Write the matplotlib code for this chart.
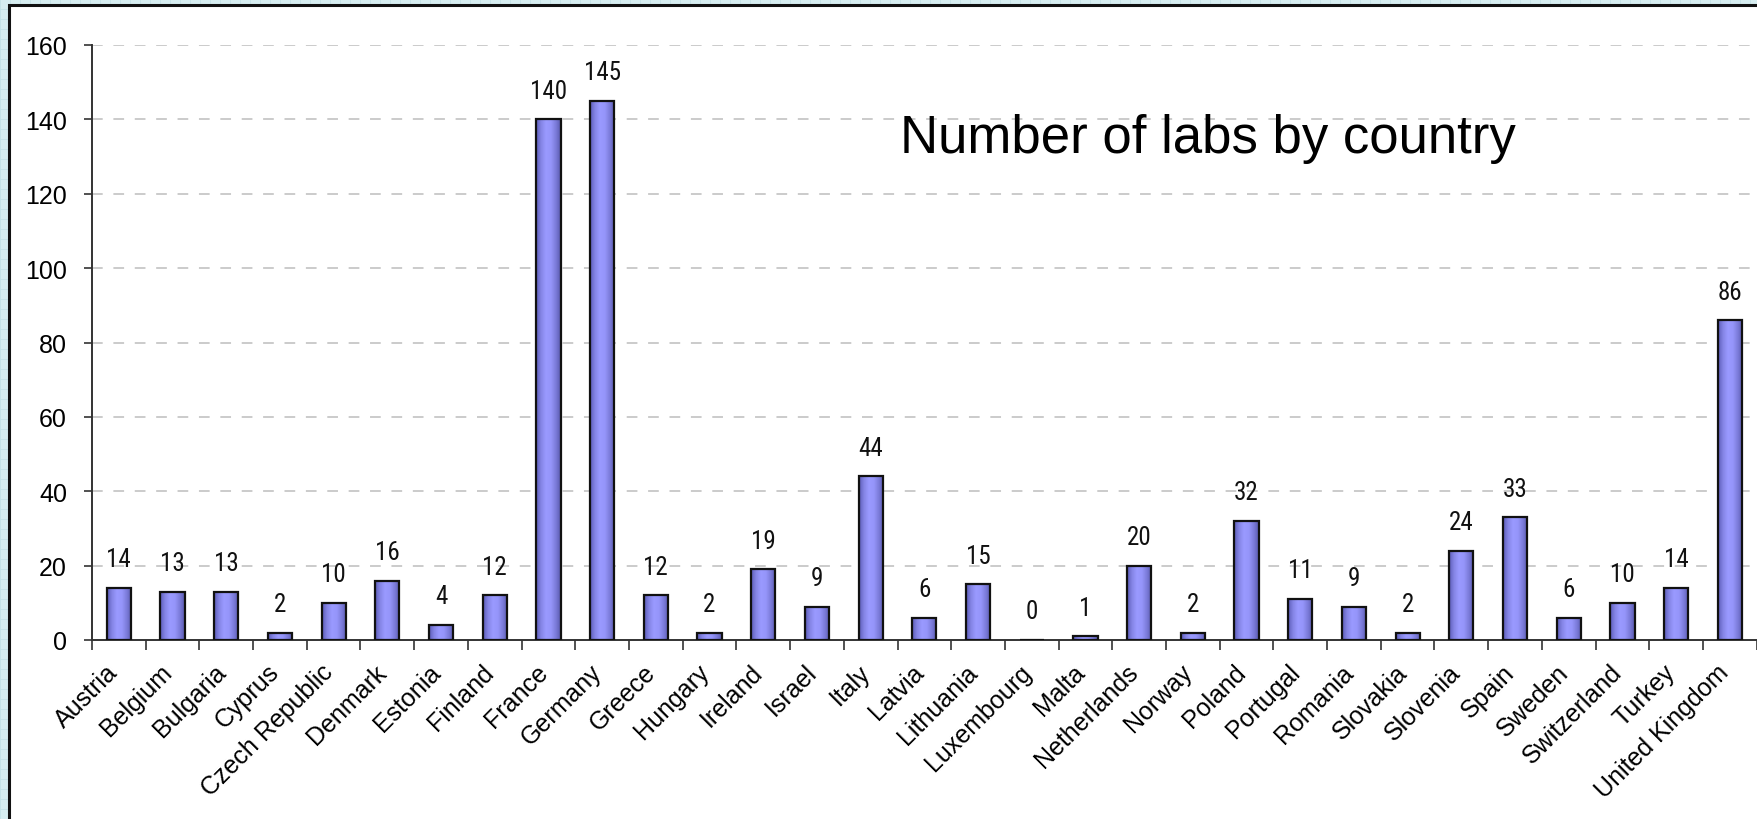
import matplotlib
matplotlib.use("Agg")
import matplotlib.pyplot as plt
import numpy as np
from matplotlib.patches import Rectangle
from matplotlib.colors import LinearSegmentedColormap
import matplotlib.transforms as mtransforms
from matplotlib import font_manager

countries = ["Austria", "Belgium", "Bulgaria", "Cyprus", "Czech Republic", "Denmark",
             "Estonia", "Finland", "France", "Germany", "Greece", "Hungary", "Ireland",
             "Israel", "Italy", "Latvia", "Lithuania", "Luxembourg", "Malta", "Netherlands",
             "Norway", "Poland", "Portugal", "Romania", "Slovakia", "Slovenia", "Spain",
             "Sweden", "Switzerland", "Turkey", "United Kingdom"]
labs = [14, 13, 13, 2, 10, 16, 4, 12, 140, 145, 12, 2, 19, 9, 44, 6, 15, 0, 1, 20,
        2, 32, 11, 9, 2, 24, 33, 6, 10, 14, 86]
yticks = [0, 20, 40, 60, 80, 100, 120, 140, 160]
title = "Number of labs by country"

# pick a narrow font for the value labels if one is installed
narrow_props = dict(family="DejaVu Sans", fontstretch="condensed")
_names = {f.name: f for f in font_manager.fontManager.ttflist}
for cand in ["Liberation Sans Narrow", "Arial Narrow", "Roboto Condensed",
             "Open Sans Condensed", "DejaVu Sans Condensed"]:
    if cand in _names:
        narrow_props = dict(family=cand)
        break
else:
    for f in font_manager.fontManager.ttflist:
        if ("Narrow" in f.name or "Condensed" in f.name) and f.style == "normal":
            narrow_props = dict(family=f.name)
            break
    else:
        for f in font_manager.fontManager.ttflist:
            if f.name == "DejaVu Sans" and "Condensed" in f.fname and "Bold" not in f.fname \
                    and "Oblique" not in f.fname:
                narrow_props = dict(fname=f.fname)
                break

W, H = 1758, 820
fig = plt.figure(figsize=(W / 100, H / 100), dpi=100)
fig.patch.set_facecolor("#d6edf0")

# light grid pattern of the slide background
for xx in np.arange(0, W, 10):
    fig.add_artist(plt.Line2D([xx / W, xx / W], [0, 1], color="#c4e2e6", lw=0.6, zorder=0))
for yy in np.arange(0, H, 10):
    fig.add_artist(plt.Line2D([0, 1], [yy / H, yy / H], color="#c4e2e6", lw=0.6, zorder=0))

# white panel with black border
panel = Rectangle((9 / W, -0.05), 1.2, 1 - 6 / H + 0.05, transform=fig.transFigure,
                  facecolor="white", edgecolor="#111111", lw=2.2, zorder=1)
fig.add_artist(panel)

ax = fig.add_axes([92 / W, 1 - 641 / H, (1756.7 - 92) / W, (641 - 46) / H])
ax.set_zorder(2)
ax.patch.set_alpha(0)

n = len(countries)
x = np.arange(n)
bw = 0.45

cmap = LinearSegmentedColormap.from_list(
    "bar", ["#5c5cb8", "#8585e6", "#9a9aff", "#9595fa", "#7c7cda", "#5a5ab0"])
grad = np.linspace(0, 1, 64).reshape(1, -1)

bars = ax.bar(x, labs, width=bw, facecolor="none", edgecolor="#111111", lw=1.6, zorder=3)
for b in bars:
    bx, by = b.get_x(), b.get_y()
    bwid, bh = b.get_width(), b.get_height()
    if bh <= 0:
        continue
    im = ax.imshow(grad, cmap=cmap, aspect="auto", extent=[bx, bx + bwid, by, by + bh],
                   zorder=2, interpolation="bilinear")
    im.set_clip_path(b)

if "fname" in narrow_props:
    _fp = font_manager.FontProperties(fname=narrow_props["fname"], size=18)
else:
    _fp = font_manager.FontProperties(size=18, **narrow_props)
for xi, v in zip(x, labs):
    ax.annotate(str(v), (xi, v), xytext=(0, 12), textcoords="offset points",
                ha="center", va="bottom", fontproperties=_fp, color="#111111")

ax.set_xlim(-0.5, n - 0.5)
ax.set_ylim(0, 160)
ax.set_yticks(yticks)
ax.set_yticklabels([str(t) for t in yticks], fontsize=18, family="Liberation Sans")
for t in yticks[1:]:
    ax.axhline(t, color="#bdbdbd", lw=1.1, ls=(0, (7, 7)), zorder=1)

ax.set_xticks(np.arange(n + 1) - 0.5)
ax.set_xticklabels([])
ax.set_xticks(x, minor=True)
ax.set_xticklabels(countries, minor=True, rotation=45, ha="right", rotation_mode="anchor",
                   fontsize=18, family="Liberation Sans")
ax.tick_params(axis="x", which="major", length=7, width=1.2, color="#333333", direction="out")
ax.tick_params(axis="x", which="minor", length=0, pad=14)
ax.tick_params(axis="y", length=6, width=1.2, color="#333333", pad=12)
offset = mtransforms.ScaledTranslation(-13 / 100, 0, fig.dpi_scale_trans)
for lbl in ax.get_xticklabels(minor=True):
    lbl.set_transform(lbl.get_transform() + offset)

for s in ["top", "right"]:
    ax.spines[s].set_visible(False)
for s in ["left", "bottom"]:
    ax.spines[s].set_color("#333333")
    ax.spines[s].set_linewidth(1.4)

fig.text(900 / W, 1 - 153 / H, title, fontsize=38, family="Liberation Sans",
         ha="left", va="baseline", color="#000000")

fig.savefig("out.png", dpi=100, facecolor=fig.get_facecolor())
